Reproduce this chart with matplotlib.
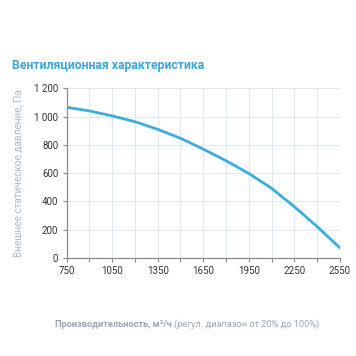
import matplotlib
matplotlib.use('Agg')
import matplotlib.pyplot as plt
from matplotlib.ticker import MultipleLocator, FuncFormatter

# airflow, m3/h and external static pressure, Pa
flow = [750, 900, 1050, 1200, 1350, 1500, 1650, 1800, 1950, 2100, 2250, 2400, 2550]
pressure = [1066, 1040, 1005, 964, 910, 847, 770, 688, 598, 493, 363, 222, 72]

x_ticks = [750, 1050, 1350, 1650, 1950, 2250, 2550]
y_ticks = [0, 200, 400, 600, 800, 1000, 1200]

plt.rcParams['font.family'] = ['Roboto', 'DejaVu Sans']

fig = plt.figure(figsize=(3.56, 3.56), dpi=100)
ax = fig.add_axes([0.187, 0.275, 0.768, 0.477])

ax.plot(flow, pressure, color='#3badde', lw=2.0, solid_capstyle='round', zorder=3)

ax.set_xlim(750, 2550)
ax.set_ylim(0, 1200)
ax.set_xticks(x_ticks)
ax.xaxis.set_minor_locator(MultipleLocator(150))
ax.set_yticks(y_ticks)
ax.yaxis.set_major_formatter(FuncFormatter(lambda v, p: f'{int(v):,}'.replace(',', ' ')))

ax.grid(True, which='both', color='#dde9f3', lw=0.7)
ax.set_axisbelow(True)
for s in ['top', 'right']:
    ax.spines[s].set_visible(False)
for s in ['left', 'bottom']:
    ax.spines[s].set_color('#8a8a8a')
    ax.spines[s].set_linewidth(0.9)

ax.tick_params(which='both', direction='out', length=3, color='#8a8a8a', width=0.8)
ax.tick_params(axis='both', labelsize=7, labelcolor='#333333', pad=3)

ax.set_ylabel('Внешнее статическое давление, Па', fontsize=7.2, color='#aab9c8', labelpad=8)

fig.text(0.034, 0.817, 'Вентиляционная характеристика', fontsize=8.8,
         fontweight='bold', color='#3aa6dc', ha='left', va='center')
fig.text(0.482, 0.088, 'Производительность, м³/ч', fontsize=6.7,
         fontweight='bold', color='#98a7b6', ha='right', va='center')
fig.text(0.489, 0.088, '(регул. диапазон от 20% до 100%)', fontsize=6.7,
         color='#98a7b6', ha='left', va='center')

fig.savefig('out.png', dpi=100)
